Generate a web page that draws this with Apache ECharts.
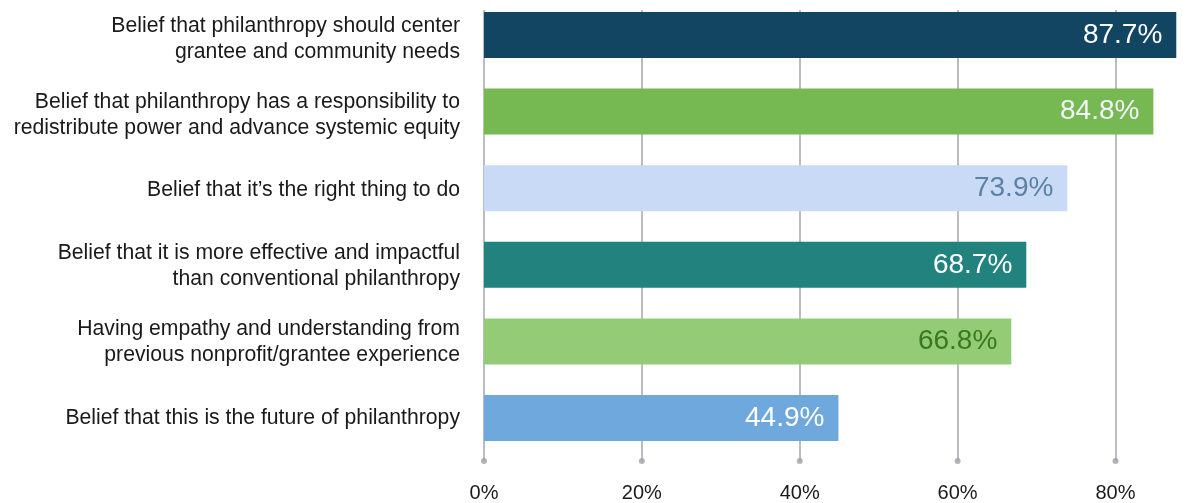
<!DOCTYPE html>
<html>
<head>
<meta charset="utf-8">
<script src="https://cdn.jsdelivr.net/npm/echarts@6/dist/echarts.min.js"></script>
<style>
  html, body { margin: 0; padding: 0; background: #fff; }
  #chart { width: 1186px; height: 503px; }
</style>
</head>
<body>
<div id="chart"></div>
<script>
// Reasons for practicing trust-based philanthropy (share of respondents, %)
const categories = [
  'Belief that philanthropy should center\ngrantee and community needs',
  'Belief that philanthropy has a responsibility to\nredistribute power and advance systemic equity',
  'Belief that it\u2019s the right thing to do',
  'Belief that it is more effective and impactful\nthan conventional philanthropy',
  'Having empathy and understanding from\nprevious nonprofit/grantee experience',
  'Belief that this is the future of philanthropy'
];
const values = [87.7, 84.8, 73.9, 68.7, 66.8, 44.9];
const barColors = ['#114562', '#76b852', '#c9daf6', '#21827e', '#93cb76', '#6fa8dc'];
const labelColors = ['#ffffff', '#f2f5fa', '#5b82a5', '#ffffff', '#3a7a1f', '#ffffff'];
const tickValues = [0, 20, 40, 60, 80];

const FONT = '"Liberation Sans", Arial, sans-serif';
const PLOT_LEFT = 484;
const AXIS_MAX = 80;          // last labelled tick
const AXIS_WIDTH = 631.5;     // pixels from 0% to 80%
const CHART_W = 1186;
// the bar grid runs to the right edge with the same pixels-per-percent
const BAR_WIDTH_PX = CHART_W - PLOT_LEFT;
const BAR_MAX = BAR_WIDTH_PX * AXIS_MAX / AXIS_WIDTH;

const chart = echarts.init(document.getElementById('chart'), null, { renderer: 'canvas' });

const hiddenValueAxis = (gridIndex, max) => ({
  gridIndex, type: 'value', min: 0, max,
  axisLine: { show: false }, axisTick: { show: false },
  axisLabel: { show: false }, splitLine: { show: false }
});

chart.setOption({
  animation: false,
  backgroundColor: '#ffffff',
  grid: [
    // bars: category points run from the first bar centre to the last
    { left: PLOT_LEFT, width: BAR_WIDTH_PX, top: 35, height: 383 },
    // gridlines, tick dots and percentage labels
    { left: PLOT_LEFT, width: AXIS_WIDTH, top: 10, bottom: 40 },
    // category labels, sitting slightly below the bar centres
    { left: PLOT_LEFT, width: BAR_WIDTH_PX, top: 39, height: 379 }
  ],
  xAxis: [
    hiddenValueAxis(0, BAR_MAX),
    {
      gridIndex: 1, type: 'value', min: 0, max: AXIS_MAX, interval: 20,
      axisLine: { show: false }, axisTick: { show: false },
      splitLine: { show: true, lineStyle: { color: '#a3a6ad', width: 1.5 } },
      axisLabel: {
        show: true, margin: 22, color: '#1a1a1a',
        fontFamily: FONT, fontSize: 20,
        formatter: v => v + '%'
      }
    },
    hiddenValueAxis(2, 1)
  ],
  yAxis: [
    {
      gridIndex: 0, type: 'category', data: categories, inverse: true,
      boundaryGap: false, show: false
    },
    {
      gridIndex: 1, type: 'value', min: 0, max: 1, show: false
    },
    {
      gridIndex: 2, type: 'category', data: categories, inverse: true,
      boundaryGap: false,
      axisLine: { show: false }, axisTick: { show: false },
      splitLine: { show: false },
      axisLabel: {
        margin: 24, color: '#1a1a1a', fontFamily: FONT, fontSize: 21.2,
        lineHeight: 26, align: 'right', interval: 0
      }
    }
  ],
  series: [
    {
      type: 'bar',
      z: 3,
      clip: false,
      xAxisIndex: 0, yAxisIndex: 0,
      barWidth: 46,
      data: values.map((v, i) => ({
        value: v,
        itemStyle: { color: barColors[i] },
        label: { color: labelColors[i] }
      })),
      label: {
        show: true, position: 'insideRight', distance: 14,
        fontFamily: FONT, fontSize: 28,
        formatter: p => p.value.toFixed(1) + '%'
      }
    },
    {
      // round dots capping each gridline
      type: 'scatter',
      xAxisIndex: 1, yAxisIndex: 1,
      symbol: 'circle', symbolSize: 6,
      itemStyle: { color: '#9da1a8' },
      silent: true,
      data: tickValues.map(t => [t, 0])
    }
  ]
});
</script>
</body>
</html>
